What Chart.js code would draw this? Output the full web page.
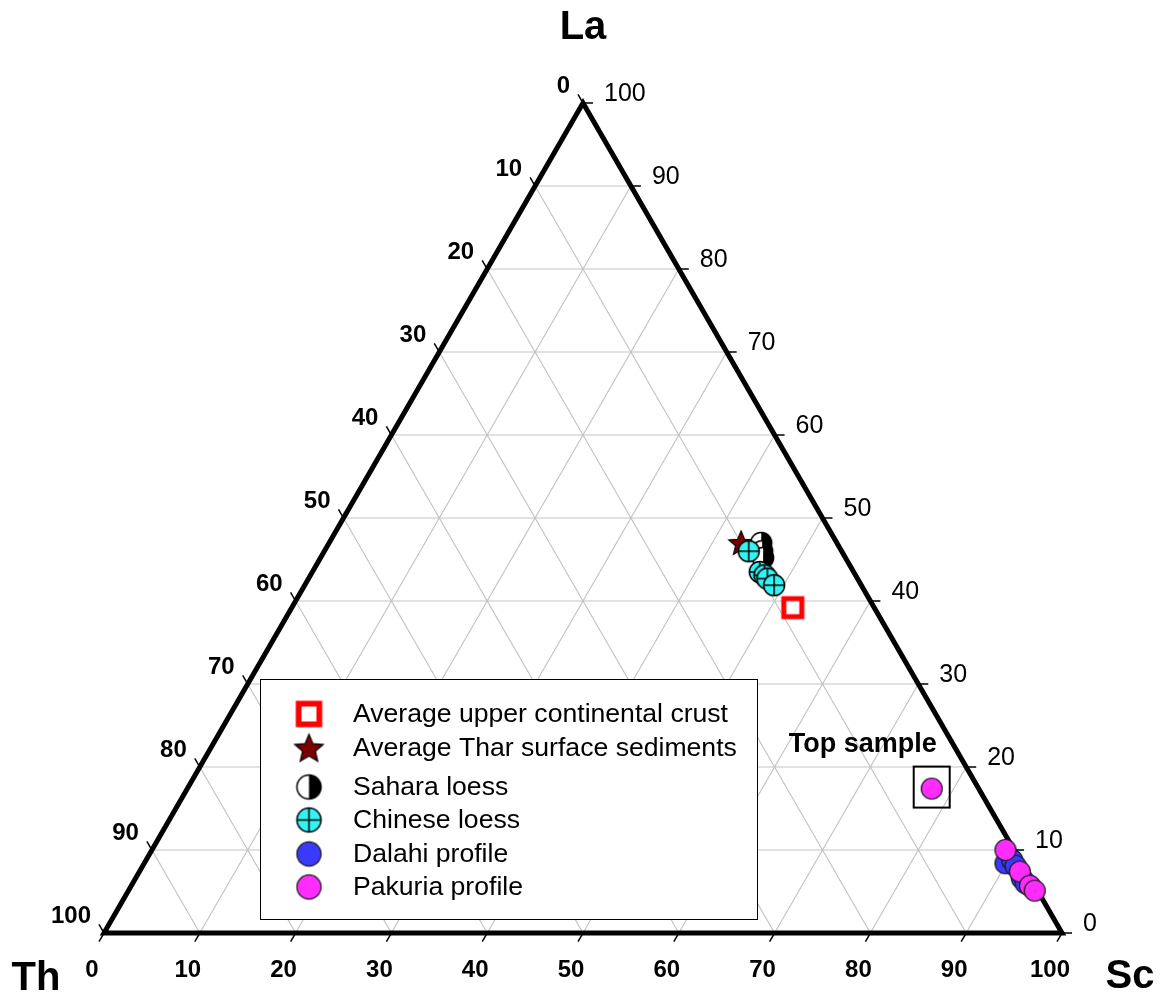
<!DOCTYPE html>
<html>
<head>
<meta charset="utf-8">
<script src="https://cdn.jsdelivr.net/npm/chart.js@4.4.1/dist/chart.umd.min.js"></script>
<style>
  html, body { margin: 0; padding: 0; background: #ffffff; }
  canvas { display: block; }
</style>
</head>
<body>
<canvas id="ternary" width="1162" height="998"></canvas>
<script>
// Compositions as [La, Th, Sc] percentages
const upperCrust     = [[39.2, 8.5, 52.3]];
const tharSurface    = [[47.0, 10.0, 43.0]];
const saharaLoess    = [[47.0, 7.9, 45.1], [46.0, 8.3, 45.7], [45.2, 8.6, 46.2]];
const chineseLoess   = [[46.0, 9.7, 44.3], [43.5, 9.8, 46.7], [43.1, 9.5, 47.4], [42.7, 9.4, 47.9], [41.9, 9.1, 49.0]];
const dalahiProfile  = [[8.4, 1.7, 89.9], [8.8, 0.8, 90.4], [8.1, 0.8, 91.1], [6.6, 0.9, 92.5], [6.0, 0.8, 93.2]];
const pakuriaProfile = [[17.4, 4.9, 77.7], [10.0, 0.9, 89.1], [7.4, 0.7, 91.9], [5.7, 0.5, 93.8], [5.1, 0.3, 94.6]];

const seriesNames = [
  'Average upper continental crust',
  'Average Thar surface sediments',
  'Sahara loess',
  'Chinese loess',
  'Dalahi profile',
  'Pakuria profile'
];
const tickValues = [0, 10, 20, 30, 40, 50, 60, 70, 80, 90, 100];
const axisNames = { top: 'La', left: 'Th', right: 'Sc' };
const highlightLabel = 'Top sample';

const SQ3_2 = Math.sqrt(3) / 2;
const FONT = '"Liberation Sans", Arial, Helvetica, sans-serif';

// Cartesian position of a ternary composition (Sc at right, La at top)
function toXY(c) {
  const sum = c[0] + c[1] + c[2];
  const la = c[0] / sum * 100, sc = c[2] / sum * 100;
  return { x: sc + la / 2, y: la * SQ3_2 };
}

// Marker sprites
function sprite(kind, s) {
  const dim = Math.ceil(32 * s);
  const cv = document.createElement('canvas');
  cv.width = dim; cv.height = dim;
  const g = cv.getContext('2d');
  const c = dim / 2;
  g.lineJoin = 'miter';
  if (kind === 'square') {
    const side = 18 * s;
    g.fillStyle = '#ffffff';
    g.fillRect(c - side / 2, c - side / 2, side, side);
    g.strokeStyle = '#ff0000';
    g.lineWidth = 5 * s;
    g.strokeRect(c - side / 2, c - side / 2, side, side);
  } else if (kind === 'star') {
    const R = 13 * s, r = R * 0.45;
    g.beginPath();
    for (let i = 0; i < 10; i++) {
      const rad = i % 2 === 0 ? R : r;
      const a = -Math.PI / 2 + i * Math.PI / 5;
      const px = c + rad * Math.cos(a), py = c + 1 * s + rad * Math.sin(a);
      if (i === 0) g.moveTo(px, py); else g.lineTo(px, py);
    }
    g.closePath();
    g.fillStyle = '#7a0000';
    g.fill();
    g.strokeStyle = '#000000';
    g.lineWidth = 1.2;
    g.stroke();
  } else if (kind === 'half') {
    const r = 10.5 * s;
    g.beginPath(); g.arc(c, c, r, 0, Math.PI * 2); g.fillStyle = '#ffffff'; g.fill();
    g.beginPath(); g.arc(c, c, r, -Math.PI / 2, Math.PI / 2); g.closePath(); g.fillStyle = '#000000'; g.fill();
    g.beginPath(); g.arc(c, c, r, 0, Math.PI * 2); g.strokeStyle = '#000000'; g.lineWidth = 1.5; g.stroke();
  } else if (kind === 'cross') {
    const r = 10.5 * s;
    g.beginPath(); g.arc(c, c, r, 0, Math.PI * 2); g.fillStyle = '#33f3f3'; g.fill();
    g.strokeStyle = '#000000'; g.lineWidth = 1.5;
    g.beginPath();
    g.moveTo(c - r, c); g.lineTo(c + r, c);
    g.moveTo(c, c - r); g.lineTo(c, c + r);
    g.stroke();
    g.beginPath(); g.arc(c, c, r, 0, Math.PI * 2); g.stroke();
  } else {
    const r = 10.5 * s;
    g.beginPath(); g.arc(c, c, r, 0, Math.PI * 2);
    g.fillStyle = kind === 'blue' ? '#3a3aff' : '#ff2cff';
    g.fill();
    g.strokeStyle = '#1a1a1a'; g.lineWidth = 1.2; g.stroke();
  }
  return cv;
}

const markerKinds = ['square', 'star', 'half', 'cross', 'blue', 'magenta'];
const plotMarkers = markerKinds.map(k => sprite(k, 1));
const legendMarkers = markerKinds.map(k => sprite(k, 1.15));
const seriesData = [upperCrust, tharSurface, saharaLoess, chineseLoess, dalahiProfile, pakuriaProfile];
// lower order draws on top
const drawOrder = [5, 4, 3, 2, 1, 0];

const ternaryFrame = {
  id: 'ternaryFrame',
  beforeDatasetsDraw(chart) {
    const { ctx, scales: { x, y } } = chart;
    const P = (la, sc) => [x.getPixelForValue(sc + la / 2), y.getPixelForValue(la * SQ3_2)];
    ctx.save();

    // grid
    ctx.strokeStyle = '#c4c4c4';
    ctx.lineWidth = 1.2;
    ctx.beginPath();
    for (let v = 10; v < 100; v += 10) {
      let a = P(v, 0), b = P(v, 100 - v);
      ctx.moveTo(a[0], a[1]); ctx.lineTo(b[0], b[1]);
      a = P(100 - v, 0); b = P(0, 100 - v);
      ctx.moveTo(a[0], a[1]); ctx.lineTo(b[0], b[1]);
      a = P(0, v); b = P(100 - v, v);
      ctx.moveTo(a[0], a[1]); ctx.lineTo(b[0], b[1]);
    }
    ctx.stroke();

    // ticks
    ctx.strokeStyle = '#000000';
    ctx.lineWidth = 1.5;
    ctx.beginPath();
    const L = 10;
    tickValues.forEach(t => {
      let p = P(100 - t, 0);
      ctx.moveTo(p[0], p[1]); ctx.lineTo(p[0] - L * 0.5, p[1] - L * SQ3_2);
      p = P(t, 100 - t);
      ctx.moveTo(p[0], p[1]); ctx.lineTo(p[0] + L, p[1]);
      p = P(0, t);
      ctx.moveTo(p[0], p[1]); ctx.lineTo(p[0] - L * 0.5, p[1] + L * SQ3_2);
    });
    ctx.stroke();

    // triangle edges
    const A = P(100, 0), B = P(0, 0), C = P(0, 100);
    ctx.lineWidth = 5;
    ctx.lineJoin = 'miter';
    ctx.beginPath();
    ctx.moveTo(A[0], A[1]); ctx.lineTo(B[0], B[1]); ctx.lineTo(C[0], C[1]); ctx.closePath();
    ctx.stroke();

    // tick labels
    ctx.fillStyle = '#000000';
    ctx.textBaseline = 'middle';
    tickValues.forEach(t => {
      ctx.font = 'bold 24px ' + FONT;
      let p = P(100 - t, 0);
      ctx.textAlign = 'right';
      ctx.fillText(String(t), p[0] - 13, p[1] - 17);
      p = P(0, t);
      ctx.textAlign = 'center';
      ctx.fillText(String(t), p[0] - 12, p[1] + 37);
      ctx.font = '25px ' + FONT;
      p = P(t, 100 - t);
      ctx.textAlign = 'left';
      ctx.fillText(String(t), p[0] + 21, p[1] - 9);
    });

    // corner titles
    ctx.font = 'bold 40px ' + FONT;
    ctx.textBaseline = 'alphabetic';
    ctx.textAlign = 'center';
    ctx.fillText(axisNames.top, A[0], 39);
    ctx.fillText(axisNames.left, 36, 990);
    ctx.fillText(axisNames.right, 1130, 988);
    ctx.restore();
  },
  afterDatasetsDraw(chart) {
    const { ctx, scales: { x, y } } = chart;
    ctx.save();

    // highlighted sample
    const top = toXY(pakuriaProfile[0]);
    const tx = x.getPixelForValue(top.x), ty = y.getPixelForValue(top.y);
    ctx.strokeStyle = '#000000';
    ctx.lineWidth = 2;
    ctx.strokeRect(tx - 18, ty - 22, 36, 41);
    ctx.fillStyle = '#000000';
    ctx.font = 'bold 27px ' + FONT;
    ctx.textAlign = 'center';
    ctx.textBaseline = 'middle';
    ctx.fillText(highlightLabel, tx - 69, ty - 44);

    // legend
    ctx.fillStyle = '#ffffff';
    ctx.fillRect(260, 679, 498, 241);
    ctx.strokeStyle = '#000000';
    ctx.lineWidth = 1;
    ctx.strokeRect(260.5, 679.5, 497, 240);
    const rows = [714, 748, 787, 820, 854, 887];
    ctx.font = '26.6px ' + FONT;
    ctx.textAlign = 'left';
    ctx.textBaseline = 'middle';
    ctx.fillStyle = '#000000';
    seriesNames.forEach((name, i) => {
      const m = legendMarkers[i];
      ctx.drawImage(m, 309 - m.width / 2, rows[i] - m.height / 2);
      ctx.fillText(name, 353, rows[i] + 1);
    });
    ctx.restore();
  }
};

new Chart(document.getElementById('ternary'), {
  type: 'scatter',
  data: {
    datasets: seriesData.map((d, i) => ({
      label: seriesNames[i],
      data: d.map(toXY),
      pointStyle: plotMarkers[i],
      pointRadius: 10.5,
      order: drawOrder[i]
    }))
  },
  options: {
    responsive: false,
    animation: false,
    devicePixelRatio: 1,
    layout: { padding: { left: 104, right: 100, top: 103, bottom: 65 } },
    scales: {
      x: { type: 'linear', min: 0, max: 100, display: false },
      y: { type: 'linear', min: 0, max: 100 * SQ3_2, display: false }
    },
    plugins: { legend: { display: false }, tooltip: { enabled: false } }
  },
  plugins: [ternaryFrame]
});
</script>
</body>
</html>
